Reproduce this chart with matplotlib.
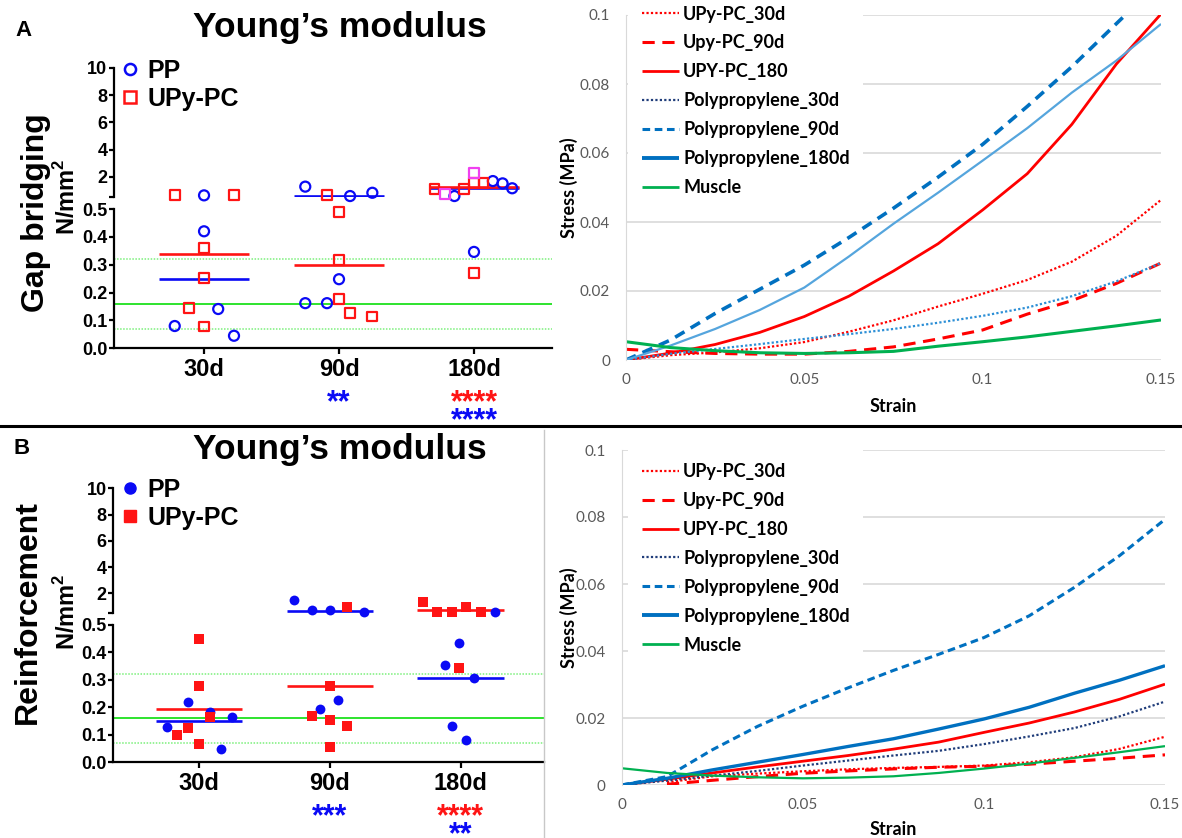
import numpy as np
import matplotlib
matplotlib.use("Agg")
import matplotlib.pyplot as plt
from matplotlib.lines import Line2D
from matplotlib.transforms import blended_transform_factory

plt.rcParams["font.family"] = ["Liberation Sans", "DejaVu Sans"]
plt.rcParams["mathtext.fontset"] = "custom"
plt.rcParams["mathtext.bf"] = "Liberation Sans:bold"
plt.rcParams["mathtext.rm"] = "Liberation Sans:bold"

W, H = 1182, 838

# ---------------- data ----------------
cats = ["30d", "90d", "180d"]
break_at = 0.5

# muscle reference (mean and band) in N/mm2
muscle_mean = 0.16
muscle_lo = 0.07
muscle_hi = 0.32

# A: gap bridging, Young's modulus per sample (day index, jitter, value)
gb_pp_day = [0, 0, 0, 0, 0, 1, 1, 1, 1, 1, 1, 2, 2, 2, 2, 2]
gb_pp_jit = [0, 0, 0.105, -0.217, 0.222, -0.25, 0.082, 0.247, 0, -0.25, -0.089, -0.145, 0.14, 0.212, 0.283, 0]
gb_pp_val = [0.65, 0.42, 0.141, 0.08, 0.045, 1.29, 0.60, 0.84, 0.248, 0.162, 0.162, 0.60, 1.70, 1.53, 1.17, 0.346]

gb_upy_day = [0, 0, 0, 0, 0, 0, 1, 1, 1, 1, 1, 1, 2, 2, 2, 2, 2]
gb_upy_jit = [-0.217, 0.222, 0, 0, -0.112, 0, -0.089, 0, 0, 0, 0.082, 0.247, -0.293, -0.076, 0, 0.071, 0]
gb_upy_val = [0.65, 0.65, 0.36, 0.252, 0.144, 0.078, 0.65, 0.489, 0.318, 0.177, 0.128, 0.114, 1.12, 1.12, 1.58, 1.53, 0.27]

gb_flag_day = [2, 2]
gb_flag_jit = [0, -0.214]
gb_flag_val = [2.27, 0.73]

gb_pp_mean = [0.248, 0.62, 1.22]
gb_upy_mean = [0.338, 0.30, 1.24]

gb_sig_day = [1, 2, 2]
gb_sig_txt = ["**", "****", "****"]
gb_sig_grp = ["pp", "upy", "pp"]
gb_sig_row = [0, 0, 1]

# B: reinforcement
rf_pp_day = [0, 0, 0, 0, 0, 1, 1, 1, 1, 1, 1, 2, 2, 2, 2, 2, 2]
rf_pp_jit = [-0.082, 0.084, 0.25, -0.247, 0.166, -0.27, -0.137, 0, 0.263, 0.066, -0.071, 0.26, -0.013, -0.118, 0.103, -0.066, 0.045]
rf_pp_val = [0.219, 0.183, 0.165, 0.129, 0.048, 1.47, 0.72, 0.72, 0.58, 0.225, 0.195, 0.55, 0.432, 0.354, 0.307, 0.132, 0.081]

rf_upy_day = [0, 0, 0, 0, 0, 0, 1, 1, 1, 1, 1, 1, 2, 2, 2, 2, 2, 2]
rf_upy_jit = [0, 0, 0.084, -0.082, -0.166, 0, 0.132, 0, -0.137, 0, 0.132, 0, -0.284, -0.179, -0.066, 0.045, 0.155, -0.013]
rf_upy_val = [0.446, 0.276, 0.163, 0.123, 0.099, 0.065, 0.99, 0.277, 0.168, 0.153, 0.131, 0.056, 1.31, 0.57, 0.57, 0.93, 0.57, 0.343]

rf_pp_mean = [0.150, 0.65, 0.307]
rf_upy_mean = [0.195, 0.277, 0.74]

rf_sig_day = [1, 2, 2]
rf_sig_txt = ["***", "****", "**"]
rf_sig_grp = ["pp", "upy", "pp"]
rf_sig_row = [0, 0, 1]

# stress-strain curves (MPa vs strain)
strain = [0, 0.0125, 0.025, 0.0375, 0.05, 0.0625, 0.075, 0.0875, 0.1, 0.1125, 0.125, 0.1375, 0.15]
nan = np.nan

gb_upy30 = [0.0, 0.0014, 0.0022, 0.0034, 0.0052, 0.0082, 0.0115, 0.0155, 0.0192, 0.0232, 0.0285, 0.0360, 0.0464]
gb_upy90 = [0.0031, 0.0024, 0.0019, 0.0017, 0.0017, 0.0025, 0.0038, 0.0061, 0.0087, 0.0133, 0.0172, 0.0222, 0.0281]
gb_upy180 = [0.0, 0.0020, 0.0045, 0.0080, 0.0126, 0.0185, 0.0258, 0.0337, 0.0435, 0.0540, 0.0683, 0.0858, 0.1003]
gb_pp30 = [0.0, 0.0018, 0.0032, 0.0046, 0.0061, 0.0075, 0.0090, 0.0108, 0.0128, 0.0152, 0.0185, 0.0228, 0.0281]
gb_pp90_strain = [0, 0.0125, 0.025, 0.0375, 0.05, 0.0625, 0.075, 0.0875, 0.1, 0.1125, 0.125, 0.14]
gb_pp90 = [0.0, 0.0058, 0.0135, 0.0205, 0.0275, 0.0355, 0.0440, 0.0530, 0.0625, 0.0735, 0.0850, 0.1000]
gb_pp180 = [0.0, 0.0042, 0.0090, 0.0145, 0.0210, 0.0300, 0.0395, 0.0485, 0.0578, 0.0672, 0.0775, 0.0868, 0.0974]
gb_muscle = [0.0053, 0.0036, 0.0027, 0.0021, 0.0019, 0.0021, 0.0025, 0.0040, 0.0053, 0.0067, 0.0083, 0.0099, 0.0116]

rf_upy30 = [nan, 0.0008, 0.0026, 0.0034, 0.0041, 0.0047, 0.0051, 0.0054, 0.0058, 0.0068, 0.0083, 0.0108, 0.0144]
rf_upy90 = [nan, 0.0002, 0.0014, 0.0025, 0.0035, 0.0042, 0.0048, 0.0053, 0.0056, 0.0062, 0.0071, 0.0080, 0.0090]
rf_upy180 = [0.0, 0.0017, 0.0036, 0.0054, 0.0071, 0.0088, 0.0107, 0.0128, 0.0157, 0.0185, 0.0218, 0.0256, 0.0301]
rf_pp30 = [0.0, 0.0013, 0.0028, 0.0042, 0.0058, 0.0073, 0.0088, 0.0102, 0.0122, 0.0145, 0.0170, 0.0205, 0.0249]
rf_pp90 = [0.0, 0.0025, 0.0105, 0.0175, 0.0235, 0.0290, 0.0342, 0.0390, 0.0440, 0.0505, 0.0590, 0.0685, 0.0793]
rf_pp180 = [0.0, 0.0020, 0.0045, 0.0068, 0.0091, 0.0115, 0.0138, 0.0167, 0.0197, 0.0232, 0.0274, 0.0313, 0.0356]
rf_muscle = [0.0050, 0.0036, 0.0028, 0.0023, 0.0020, 0.0022, 0.0026, 0.0036, 0.0049, 0.0064, 0.0081, 0.0098, 0.0116]

curve_names = ["UPy-PC_30d", "Upy-PC_90d", "UPY-PC_180", "Polypropylene_30d",
               "Polypropylene_90d", "Polypropylene_180d", "Muscle"]

# ---------------- styles ----------------
BLUE = "#0A0AF5"
RED = "#FF1414"
MAGENTA = "#F040F0"
GREEN = "#1EE01E"
LGREEN = "#7CF07C"

styles = {
    "UPy-PC_30d": dict(color="#FF0000", ls=(0, (1, 1)), lw=1.6),
    "Upy-PC_90d": dict(color="#FF0000", ls=(0, (4, 2.5)), lw=2.2),
    "UPY-PC_180": dict(color="#FF0000", ls="-", lw=2.0),
    "Polypropylene_30d": dict(color="#203D7A", ls=(0, (1, 1)), lw=1.6),
    "Polypropylene_90d": dict(color="#0070C0", ls=(0, (2.5, 1.5)), lw=2.2),
    "Polypropylene_180d": dict(color="#0070C0", ls="-", lw=2.8),
    "Muscle": dict(color="#00B050", ls="-", lw=2.0),
}

fig = plt.figure(figsize=(W / 100, H / 100), dpi=100)


def fx(x):
    return x / W


def fy(y):
    return 1 - y / H


def px_axes(left, top, right, bottom):
    return fig.add_axes([fx(left), fy(bottom), (right - left) / W, (bottom - top) / H])


def split_scatter(ax_hi, ax_lo, day, jit, val, **kw):
    x = np.array(day) + np.array(jit)
    v = np.array(val)
    up = v > break_at
    for ax, m in ((ax_hi, up), (ax_lo, ~up)):
        if m.any():
            ax.scatter(x[m], v[m], clip_on=False, zorder=3, **kw)


def dot_panel(geo, pp, upy, pp_mean, upy_mean, sig, filled, flag=None):
    ax_hi = px_axes(geo["x0"], geo["hi"][0], geo["x1"], geo["hi"][1])
    ax_lo = px_axes(geo["x0"], geo["lo"][0], geo["x1"], geo["lo"][1])
    for ax in (ax_hi, ax_lo):
        ax.set_xlim(geo["xlim"])
        ax.patch.set_alpha(0)
        ax.spines["top"].set_visible(False)
        ax.spines["right"].set_visible(False)
        ax.spines["left"].set_linewidth(1.6)
        ax.tick_params(axis="y", direction="out", length=3.5, width=1.6, pad=1, labelsize=13)
    ax_hi.set_ylim(break_at, 10)
    ax_lo.set_ylim(0, break_at)
    ax_hi.spines["bottom"].set_visible(False)
    ax_hi.set_xticks([])
    ax_hi.set_yticks([0.5, 2, 4, 6, 8, 10])
    ax_hi.set_yticklabels(["", "2", "4", "6", "8", "10"], fontweight="bold")
    ax_lo.set_yticks([0, 0.1, 0.2, 0.3, 0.4, 0.5])
    ax_lo.set_yticklabels(["0.0", "0.1", "0.2", "0.3", "0.4", "0.5"], fontweight="bold")
    ax_lo.set_xticks([0, 1, 2])
    ax_lo.set_xticklabels(cats, fontsize=17, fontweight="bold")
    ax_lo.tick_params(axis="x", length=4, width=1.6, pad=3)
    ax_lo.spines["bottom"].set_linewidth(1.6)

    ax_lo.axhline(muscle_mean, color=GREEN, lw=1.3, zorder=1)
    for v in (muscle_lo, muscle_hi):
        ax_lo.axhline(v, color=LGREEN, lw=1.1, ls=(0, (1, 1)), zorder=1)

    for d in range(len(cats)):
        for m, c in ((pp_mean[d], BLUE), (upy_mean[d], RED)):
            ax = ax_hi if m > break_at else ax_lo
            ax.hlines(m, d - 0.33, d + 0.33, color=c, lw=1.9, zorder=2)

    if filled:
        pp_kw = dict(marker="o", s=50, color=BLUE, linewidths=0)
        upy_kw = dict(marker="s", s=48, color=RED, linewidths=0)
    else:
        pp_kw = dict(marker="o", s=52, facecolors="none", edgecolors=BLUE, linewidths=1.6)
        upy_kw = dict(marker="s", s=50, facecolors="none", edgecolors=RED, linewidths=1.6)
    split_scatter(ax_hi, ax_lo, *pp, **pp_kw)
    split_scatter(ax_hi, ax_lo, *upy, **upy_kw)
    if flag is not None:
        fl_kw = dict(upy_kw)
        fl_kw["edgecolors"] = MAGENTA
        split_scatter(ax_hi, ax_lo, *flag, **fl_kw)

    # legend
    if filled:
        hs = [Line2D([], [], ls="none", marker="o", ms=8, color=BLUE),
              Line2D([], [], ls="none", marker="s", ms=8, color=RED)]
    else:
        hs = [Line2D([], [], ls="none", marker="o", ms=8, mfc="none", mec=BLUE, mew=1.8),
              Line2D([], [], ls="none", marker="s", ms=8, mfc="none", mec=RED, mew=1.8)]
    ax_hi.legend(hs, ["PP", "UPy-PC"], loc="upper left",
                 bbox_to_anchor=(fx(geo["leg"][0]), fy(geo["leg"][1])), bbox_transform=fig.transFigure,
                 frameon=False, prop=dict(weight="bold", size=18), borderpad=0, borderaxespad=0,
                 handlelength=0.8, handletextpad=0.3, labelspacing=0.15)

    # significance stars
    tr = blended_transform_factory(ax_lo.transData, fig.transFigure)
    day, txt, grp, row = sig
    for d, t, g, r in zip(day, txt, grp, row):
        ax_lo.text(d, fy(geo["star_y"] + r * 18 + 15), t, transform=tr, ha="center", va="baseline",
                   fontsize=22, fontweight="bold", color=BLUE if g == "pp" else RED)

    fig.text(fx(geo["panel"][0]), fy(geo["panel"][1]), geo["panel"][2], fontsize=16, fontweight="bold",
             ha="center", va="center")
    fig.text(fx(340), fy(geo["title_y"]), "Young\u2019s modulus", fontsize=25.5, fontweight="bold",
             ha="center", va="center")
    fig.text(fx(geo["ylab_x"]), fy(geo["ylab_y"]), geo["ylab"], fontsize=23, fontweight="bold", rotation=90,
             ha="center", va="center")
    fig.text(fx(67), fy(geo["unit_y"]), r"N/mm$^{\mathbf{2}}$", fontsize=17, fontweight="bold", rotation=90,
             ha="center", va="center")
    return ax_hi, ax_lo


def curve_panel(geo, series, override):
    ax = px_axes(*geo["box"])
    for name in curve_names:
        st = dict(styles[name])
        st.update(override.get(name, {}))
        xs, ys = series[name]
        ax.plot(xs, ys, color=st["color"], ls=st["ls"], lw=st["lw"],
                solid_capstyle="butt", dash_capstyle="butt", zorder=3)
    ax.set_xlim(0, 0.15)
    ax.set_ylim(0, 0.1)
    ax.set_xticks([0, 0.05, 0.1, 0.15])
    ax.set_xticklabels(["0", "0.05", "0.1", "0.15"], fontfamily="Lato", fontsize=11, color="#595959")
    ax.set_yticks([0, 0.02, 0.04, 0.06, 0.08, 0.1])
    ax.set_yticklabels(["0", "0.02", "0.04", "0.06", "0.08", "0.1"], fontfamily="Lato", fontsize=11,
                       color="#595959")
    ax.tick_params(length=0)
    ax.tick_params(axis="y", pad=11.5)
    ax.tick_params(axis="x", pad=9)
    ax.grid(axis="y", color="#D9D9D9", lw=1.2)
    ax.set_axisbelow(True)
    for s in ("top", "right", "bottom"):
        ax.spines[s].set_visible(False)
    ax.spines["left"].set_color("#D9D9D9")
    ax.spines["left"].set_zorder(6)

    hs = [Line2D([], [], color=styles[n]["color"], ls=styles[n]["ls"], lw=styles[n]["lw"],
                 solid_capstyle="butt", dash_capstyle="butt") for n in curve_names]
    ax.legend(hs, curve_names, loc="upper left", bbox_to_anchor=(fx(628), fy(geo["leg_top"])),
              bbox_transform=fig.transFigure, prop=dict(family="Lato", weight="bold", size=13),
              frameon=True, fancybox=False, framealpha=1, edgecolor="none", facecolor="white",
              borderpad=0.75, handlelength=2.1, handletextpad=0.2, labelspacing=0.66, borderaxespad=0)
    fig.text(fx(569), fy(geo["ylab_y"]), "Stress (MPa)", family="Lato", fontweight="bold", fontsize=13,
             rotation=90, ha="center", va="center")
    fig.text(fx(893), fy(geo["xlab_y"]), "Strain", family="Lato", fontweight="bold", fontsize=13,
             ha="center", va="center")
    return ax


# ---------------- panel A ----------------
geo_a = dict(x0=113.6, x1=552, hi=(68, 197.4), lo=(209, 348.3), xlim=(-0.670, 2.578),
             leg=(120, 59), star_y=396, panel=(23, 30, "A"), title_y=28, ylab="Gap bridging",
             ylab_x=36, ylab_y=213, unit_y=197)
dot_panel(geo_a, (gb_pp_day, gb_pp_jit, gb_pp_val), (gb_upy_day, gb_upy_jit, gb_upy_val),
          gb_pp_mean, gb_upy_mean, (gb_sig_day, gb_sig_txt, gb_sig_grp, gb_sig_row), filled=False,
          flag=(gb_flag_day, gb_flag_jit, gb_flag_val))

series_a = {
    "UPy-PC_30d": (strain, gb_upy30),
    "Upy-PC_90d": (strain, gb_upy90),
    "UPY-PC_180": (strain, gb_upy180),
    "Polypropylene_30d": (strain, gb_pp30),
    "Polypropylene_90d": (gb_pp90_strain, gb_pp90),
    "Polypropylene_180d": (strain, gb_pp180),
    "Muscle": (strain, gb_muscle),
}
override_a = {
    "Polypropylene_30d": dict(color="#2C8FD6"),
    "Polypropylene_90d": dict(ls=(0, (3, 2)), lw=2.6),
    "Polypropylene_180d": dict(color="#55A5DD", lw=1.6),
    "Muscle": dict(lw=2.2),
}
curve_panel(dict(box=(626, 15, 1161, 360), leg_top=-8, ylab_y=188, xlab_y=407), series_a, override_a)

# ---------------- panel B ----------------
geo_b = dict(x0=113, x1=544, hi=(488.3, 613), lo=(624.6, 762.3), xlim=(-0.657, 2.638),
             leg=(120, 478), star_y=810, panel=(22, 448, "B"), title_y=449, ylab="Reinforcement",
             ylab_x=28, ylab_y=612, unit_y=612)
dot_panel(geo_b, (rf_pp_day, rf_pp_jit, rf_pp_val), (rf_upy_day, rf_upy_jit, rf_upy_val),
          rf_pp_mean, rf_upy_mean, (rf_sig_day, rf_sig_txt, rf_sig_grp, rf_sig_row), filled=True)

series_b = {
    "UPy-PC_30d": (strain, rf_upy30),
    "Upy-PC_90d": (strain, rf_upy90),
    "UPY-PC_180": (strain, rf_upy180),
    "Polypropylene_30d": (strain, rf_pp30),
    "Polypropylene_90d": (strain, rf_pp90),
    "Polypropylene_180d": (strain, rf_pp180),
    "Muscle": (strain, rf_muscle),
}
override_b = {"Muscle": dict(lw=1.6), "Polypropylene_180d": dict(lw=2.4)}
curve_panel(dict(box=(621.7, 450, 1165, 785), leg_top=449.5, ylab_y=618, xlab_y=829), series_b, override_b)

# separators
fig.add_artist(Line2D([0, 1], [fy(426), fy(426)], color="black", lw=2.2, transform=fig.transFigure))
fig.add_artist(Line2D([fx(544), fx(544)], [fy(430), 0], color="#C8C8C8", lw=1, transform=fig.transFigure))

fig.savefig("out.png", dpi=100)
